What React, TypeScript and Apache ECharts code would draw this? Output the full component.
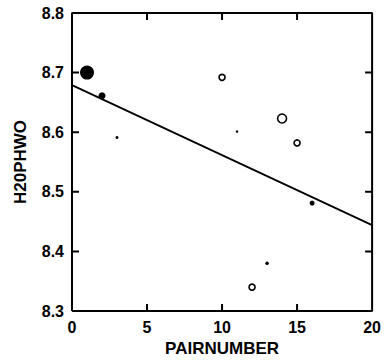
import React, { useEffect, useRef } from "react";
import * as echarts from "echarts";

const pairNumber = [1, 2, 3, 10, 11, 12, 13, 14, 15, 16];
const h2oValue = [8.70, 8.661, 8.591, 8.692, 8.601, 8.34, 8.38, 8.623, 8.582, 8.481];
const markerSize = [14, 7, 3, 6, 2.5, 6, 3.5, 9, 6, 5];
const markerFilled = [true, true, true, false, true, false, true, false, false, true];
const fitX = [0, 20];
const fitY = [8.679, 8.444];
const xTicks = [0, 5, 10, 15, 20];
const yTicks = [8.3, 8.4, 8.5, 8.6, 8.7, 8.8];

const FONT = "Liberation Sans, Arial, sans-serif";
const mkLabel = () => ({ color: "#000", fontFamily: FONT, fontSize: 16, fontWeight: "bold" });

const GRID = { left: 72, right: 11, top: 13, bottom: 53 };
const W = 384;
const H = 364;
const TICK_PX = 7;

export default function App() {
  const ref = useRef<HTMLDivElement>(null);
  useEffect(() => {
    if (!ref.current) return;
    const chart = echarts.init(ref.current, null, { renderer: "svg" });
    const xMin = xTicks[0];
    const xMax = xTicks[xTicks.length - 1];
    const yMin = yTicks[0];
    const yMax = yTicks[yTicks.length - 1];
    const plotW = W - GRID.left - GRID.right;
    const plotH = H - GRID.top - GRID.bottom;
    const tx = (TICK_PX * (xMax - xMin)) / plotW;
    const ty = (TICK_PX * (yMax - yMin)) / plotH;

    const points = pairNumber.map((x, i) => ({
      value: [x, h2oValue[i]],
      symbolSize: markerSize[i],
      itemStyle: markerFilled[i]
        ? { color: "#000", borderWidth: 0, opacity: 1 }
        : { color: "#fff", borderColor: "#000", borderWidth: 1.6, opacity: 1 },
    }));

    const gap: any[] = ["-", "-"];
    const frame: any[] = [
      [xMin, yMin],
      [xMax, yMin],
      [xMax, yMax],
      [xMin, yMax],
      [xMin, yMin],
    ];
    xTicks.slice(1, -1).forEach((v) => {
      frame.push(gap, [v, yMin], [v, yMin + ty]);
      frame.push(gap, [v, yMax], [v, yMax - ty]);
    });
    yTicks.slice(1, -1).forEach((v) => {
      frame.push(gap, [xMin, v], [xMin + tx, v]);
      frame.push(gap, [xMax, v], [xMax - tx, v]);
    });

    chart.setOption({
      animation: false,
      backgroundColor: "#fff",
      grid: GRID,
      xAxis: {
        type: "value",
        min: xMin,
        max: xMax,
        interval: 5,
        position: "bottom",
        axisLine: { show: false },
        axisTick: { show: false },
        splitLine: { show: false },
        axisLabel: mkLabel(),
        name: "PAIRNUMBER",
        nameLocation: "middle",
        nameGap: 28,
        nameTextStyle: { ...mkLabel(), fontSize: 17 },
      },
      yAxis: {
        type: "value",
        min: yMin,
        max: yMax,
        interval: 0.1,
        position: "left",
        axisLine: { show: false },
        axisTick: { show: false },
        splitLine: { show: false },
        axisLabel: mkLabel(),
        name: "H20PHWO",
        nameLocation: "middle",
        nameGap: 43,
        nameTextStyle: { ...mkLabel(), fontSize: 17 },
      },
      series: [
        {
          type: "line",
          data: frame,
          showSymbol: false,
          symbol: "none",
          connectNulls: false,
          clip: false,
          lineStyle: { color: "#000", width: 2 },
          silent: true,
        },
        {
          type: "line",
          data: fitX.map((x, i) => [x, fitY[i]]),
          showSymbol: false,
          symbol: "none",
          lineStyle: { color: "#000", width: 1.8 },
          silent: true,
        },
        {
          type: "scatter",
          data: points,
        },
      ],
    });
    return () => chart.dispose();
  }, []);
  return (
    <div
      ref={ref}
      style={{ position: "fixed", left: 0, top: 0, width: W, height: H }}
    />
  );
}
